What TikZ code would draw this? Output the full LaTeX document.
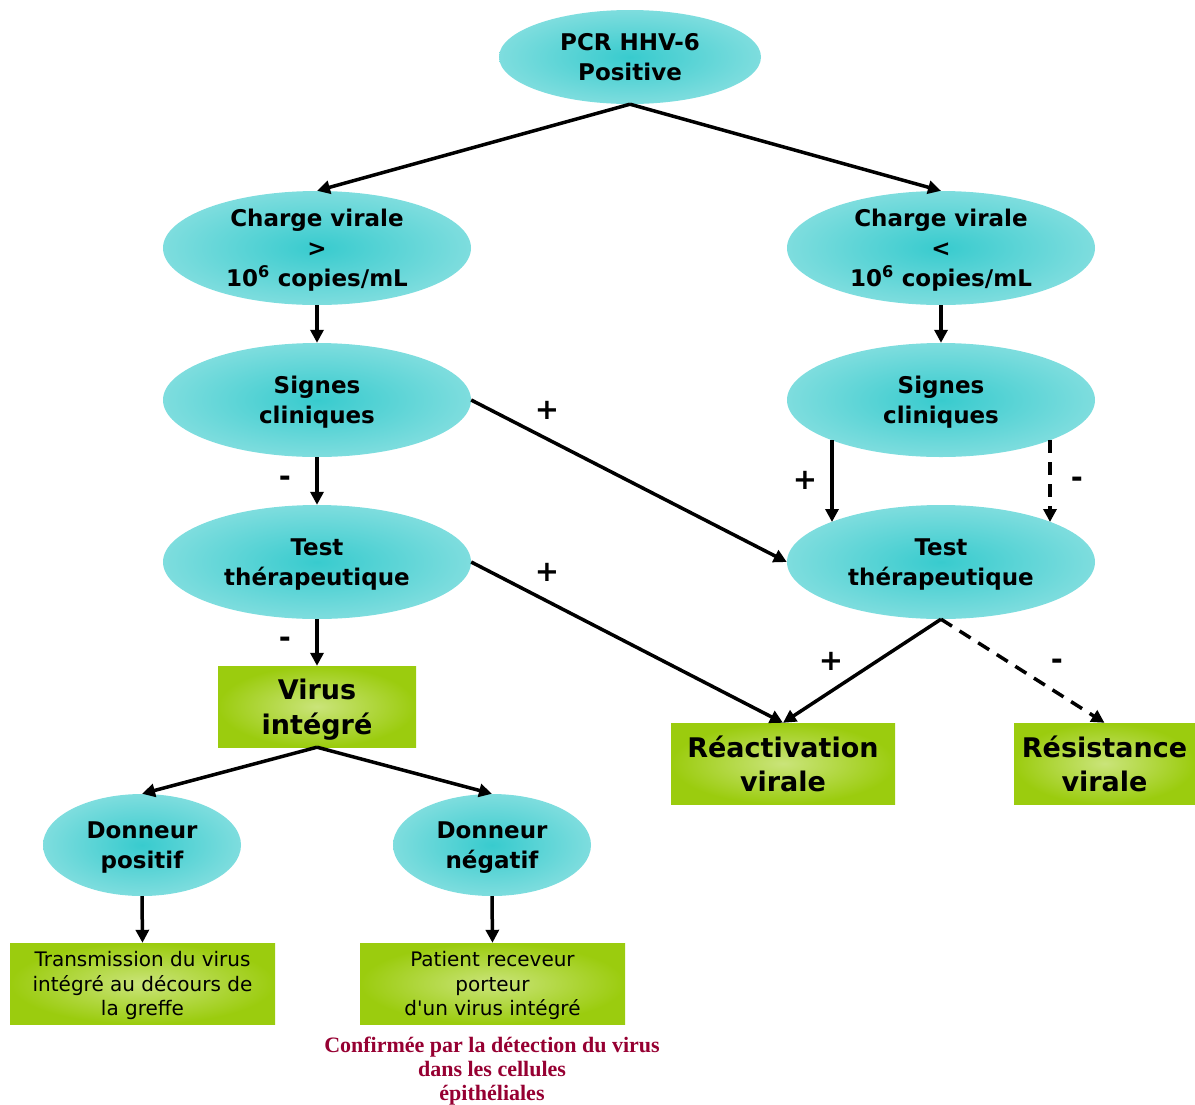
\documentclass[tikz,border=0pt]{standalone}
\usepackage{fontspec}
\setmainfont{DejaVu Sans}
\newfontfamily\plainfont{DejaVu Sans}
\newfontfamily\redfont{Liberation Serif}
\usetikzlibrary{arrows.meta,calc,shapes.geometric}
\definecolor{cyanin}{RGB}{56,203,206}
\definecolor{cyanout}{RGB}{126,221,222}
\definecolor{grin}{RGB}{202,228,122}
\definecolor{grout}{RGB}{155,204,14}
\definecolor{redtext}{RGB}{150,0,50}
\begin{document}
\begin{tikzpicture}[x=1pt,y=-1pt,
  ell/.style={ellipse, minimum width=308pt, minimum height=114pt, inner sep=0pt,
    inner color=cyanin, outer color=cyanout, align=center, text depth=0pt,
    font=\fontsize{23}{30}\selectfont\bfseries},
  smallell/.style={ell, minimum width=198pt, minimum height=102pt},
  topell/.style={ell, minimum width=262pt, minimum height=94pt},
  gbox/.style={rectangle, inner sep=0pt, inner color=grin, outer color=grout,
    align=center, minimum height=81pt, text depth=0pt},
  bigtext/.style={font=\fontsize{27}{34.5}\selectfont\bfseries},
  smalltext/.style={font=\plainfont\fontsize{20}{24.5}\selectfont},
  conn/.style={line width=3.5pt, -{Triangle[length=13pt,width=13pt]}},
  dashconn/.style={conn, dash pattern=on 13pt off 9pt},
  sign/.style={font=\fontsize{29}{29}\selectfont\bfseries, inner sep=0pt}
]
\useasboundingbox (0,0) rectangle (1195,1104);

\node[topell] (top) at (630,57) {PCR HHV-6\\Positive};
\node[ell] (cL) at (317,248) {Charge virale\\>\\10\textsuperscript{6} copies/mL};
\node[ell] (cR) at (941,248) {Charge virale\\<\\10\textsuperscript{6} copies/mL};
\node[ell] (sL) at (317,400) {Signes\\cliniques};
\node[ell] (sR) at (941,400) {Signes\\cliniques};
\node[ell] (tL) at (317,562) {Test\\thérapeutique};
\node[ell] (tR) at (941,562) {Test\\thérapeutique};

\node[gbox, bigtext, minimum width=198pt] (virus) at (317,706.5) {Virus\\intégré};
\node[gbox, bigtext, minimum width=224pt] (reac) at (783,763.5) {Réactivation\\virale};
\node[gbox, bigtext, minimum width=181pt] (res) at (1104.5,763.5) {Résistance\\virale};

\node[smallell] (dP) at (142,845) {Donneur\\positif};
\node[smallell] (dN) at (492,845) {Donneur\\négatif};

\node[gbox, smalltext, minimum width=265pt] (trans) at (142.5,983.5) {Transmission du virus\\intégré au décours de\\la greffe};
\node[gbox, smalltext, minimum width=265pt] (pat) at (492.5,983.5) {Patient receveur\\porteur\\d'un virus intégré};

\node[font=\redfont\bfseries\fontsize{22}{24}\selectfont, text=redtext, align=center, inner sep=0pt, anchor=north] (conf) at (492,1037) {Confirmée par la détection du virus\\dans les cellules\\épithéliales};

% connectors
\draw[conn] (top.south) -- (cL.north);
\draw[conn] (top.south) -- (cR.north);
\draw[conn] (cL.south) -- (sL.north);
\draw[conn] (cR.south) -- (sR.north);
\draw[conn] (sL.south) -- (tL.north);
\draw[conn] (tL.south) -- (virus.north);
\draw[conn] (sL.east) -- (tR.west);
\draw[conn] (tL.east) -- (reac.north);
\draw[conn] ($(sR.center)+(-109,40)$) -- ($(tR.center)+(-109,-40)$);
\draw[dashconn] ($(sR.center)+(109,40)$) -- ($(tR.center)+(109,-40)$);
\draw[conn] (tR.south) -- (reac.north);
\draw[dashconn] (tR.south) -- (res.north);
\draw[conn] (virus.south) -- (dP.north);
\draw[conn] (virus.south) -- (dN.north);
\draw[conn] (dP.south) -- (trans.north);
\draw[conn] (dN.south) -- (pat.north);

% signs
\node[sign] (p1) at (547,410) {+};
\node[sign] (p2) at (547,572) {+};
\node[sign] (p3) at (805,480) {+};
\node[sign] (p4) at (831,661) {+};
\node[sign] (m1) at (285,481) {-};
\node[sign] (m2) at (285,642) {-};
\node[sign] (m3) at (1077,482) {-};
\node[sign] (m4) at (1057,664) {-};
\end{tikzpicture}
\end{document}
